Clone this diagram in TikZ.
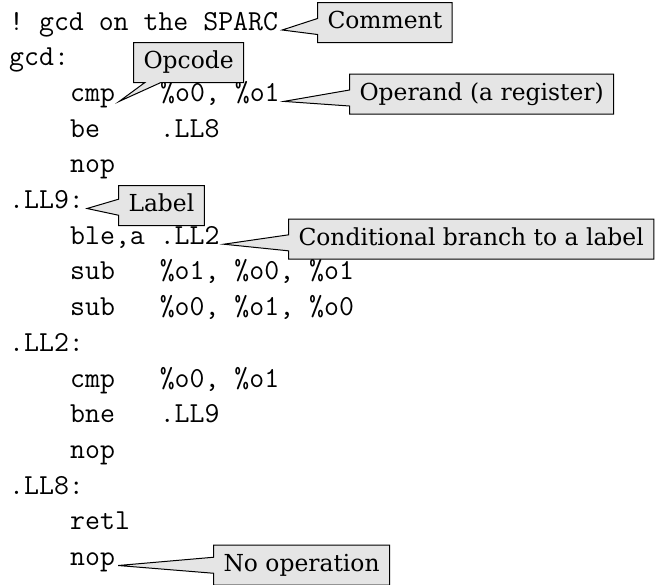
\documentclass[tikz,border=0pt]{standalone}
\usepackage{fontspec}
\newfontfamily\notefont{DejaVu Serif}
\usetikzlibrary{shapes.callouts,positioning}

\begin{document}
\begin{tikzpicture}[x=1pt,y=-1pt]
\tikzstyle{code}=[inner sep=0pt,anchor=base west,font=\fontsize{29}{35}\selectfont\ttfamily]
\tikzstyle{note}=[rectangle callout,draw,line width=1pt,fill=gray!20,anchor=west,
  inner xsep=10pt,inner ysep=7pt,text height=19pt,text depth=7pt,
  callout pointer width=16pt,font=\fontsize{23.4}{28}\notefont]

\useasboundingbox (0,0) rectangle (655,584);

% the listing
\node[code] (l1) at (9,30) {!~gcd~on~the~SPARC};
\node[code] (l2) at (9,65.7) {gcd:};
\node[code] (cmp) at (70,101.4) {cmp};
\node[code] (ops) at (cmp.base east) {~~~\%o0,~\%o1};
\node[code] (l4) at (70,137.1) {be~~~~.LL8};
\node[code] (l5) at (70,172.8) {nop};
\node[code] (l6) at (9,208.5) {.LL9:};
\node[code] (l7) at (70,244.2) {ble,a~.LL2};
\node[code] (l8) at (70,279.9) {sub~~~\%o1,~\%o0,~\%o1};
\node[code] (l9) at (70,315.6) {sub~~~\%o0,~\%o1,~\%o0};
\node[code] (l10) at (9,351.3) {.LL2:};
\node[code] (l11) at (70,387) {cmp~~~\%o0,~\%o1};
\node[code] (l12) at (70,422.7) {bne~~~.LL9};
\node[code] (l13) at (70,458.4) {nop};
\node[code] (l14) at (9,494.1) {.LL8:};
\node[code] (l15) at (70,529.8) {retl};
\node[code] (l16) at (70,565.5) {nop};

% the callouts
\node[note,callout absolute pointer={([xshift=4pt]l1.base east)}] (comment) at (317,22.5) {Comment};
\node[note,callout absolute pointer={([xshift=4pt]cmp.base east)}] (opcode) at (133,62.5) {Opcode};
\node[note,callout absolute pointer={([xshift=4pt]ops.base east)}] (operand) at (349,94) {Operand (a register)};
\node[note,callout absolute pointer={([xshift=3pt]l6.base east)}] (label) at (118,205.5) {Label};
\node[note,callout absolute pointer={([xshift=4pt]l7.base east)}] (branch) at (288,239) {Conditional branch to a label};
\node[note,callout absolute pointer={([xshift=3pt]l16.base east)}] (noop) at (213,565) {No operation};

\end{tikzpicture}
\end{document}
